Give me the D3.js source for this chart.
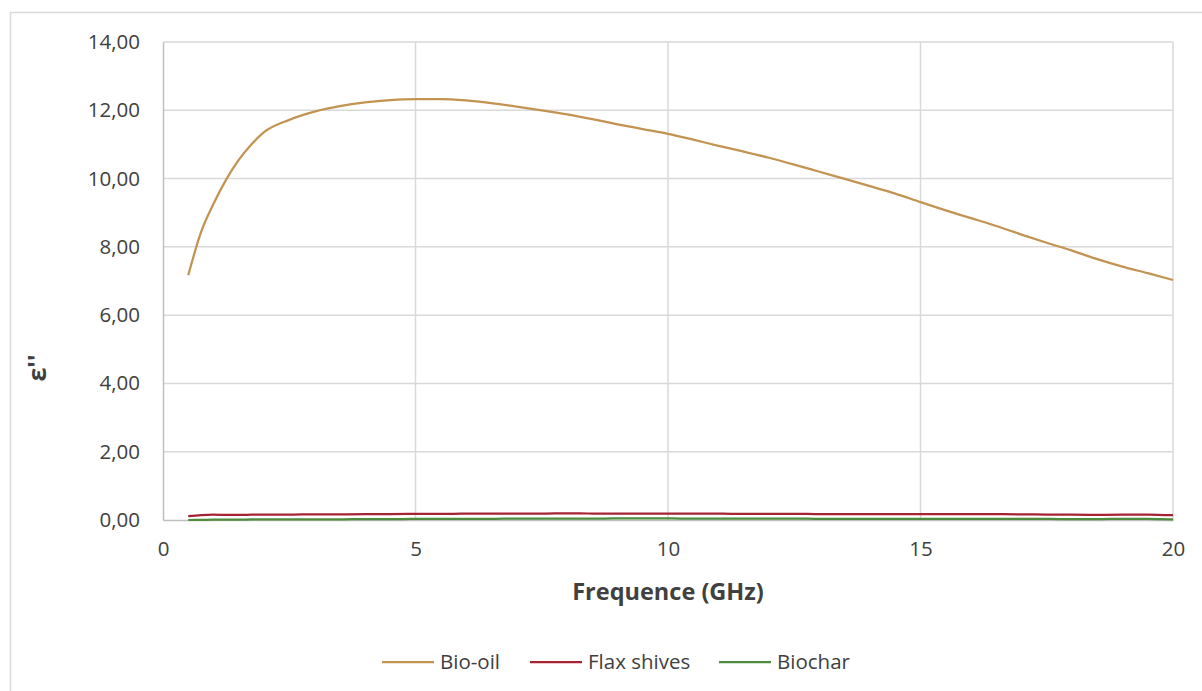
<!DOCTYPE html>
<html><head><meta charset="utf-8">
<script src="https://cdn.jsdelivr.net/npm/d3@7"></script>
<style>body{margin:0;background:#fff}svg{display:block}text{font-family:"Open Sans",sans-serif;fill:#404040}</style>
</head><body><svg id="c" width="1202" height="691"></svg>
<script>
const freq = [0.5,0.75,1,1.25,1.5,1.75,2,2.5,3,3.5,4,4.5,5,5.5,6,6.5,7,7.5,8,8.5,9,9.5,10,10.5,11,11.5,12,12.5,13,13.5,14,14.5,15,15.5,16,16.5,17,17.5,18,18.5,19,19.5,20];
const bioOil = [7.17,8.42,9.26,9.97,10.55,11.0,11.36,11.72,11.96,12.12,12.23,12.3,12.33,12.33,12.29,12.21,12.11,12.0,11.88,11.74,11.59,11.45,11.31,11.14,10.96,10.79,10.61,10.41,10.2,9.99,9.78,9.56,9.31,9.07,8.84,8.61,8.36,8.12,7.89,7.64,7.42,7.23,7.03];
const flax = [0.11,0.14,0.155,0.15,0.15,0.155,0.16,0.16,0.165,0.165,0.17,0.175,0.18,0.18,0.185,0.185,0.19,0.19,0.195,0.19,0.19,0.19,0.19,0.185,0.185,0.18,0.18,0.18,0.175,0.175,0.175,0.175,0.17,0.17,0.17,0.17,0.165,0.16,0.155,0.15,0.155,0.16,0.14];
const biochar = [0.0,0.005,0.01,0.01,0.01,0.015,0.015,0.02,0.02,0.02,0.025,0.025,0.03,0.03,0.035,0.035,0.04,0.04,0.04,0.04,0.045,0.045,0.045,0.04,0.04,0.04,0.04,0.04,0.035,0.035,0.035,0.035,0.035,0.035,0.035,0.03,0.03,0.03,0.025,0.025,0.035,0.035,0.02];
const seriesNames = ["Bio-oil","Flax shives","Biochar"];
const seriesColors = ["#C39352","#A62333","#4F8B3C"];
const yTicks = [0,2,4,6,8,10,12,14];
const xTicks = [0,5,10,15,20];
const xTitle = "Frequence (GHz)";
const yTitle = "ε''";

const svg = d3.select("#c");
const m = {l:163, r:1173, t:42, b:520};
const x = d3.scaleLinear().domain([0,20]).range([m.l,m.r]);
const y = d3.scaleLinear().domain([0,14]).range([m.b,m.t]);

svg.append("rect").attr("x",10.5).attr("y",12.5).attr("width",1200).attr("height",700)
  .attr("fill","none").attr("stroke","#d9d9d9").attr("stroke-width",1.5);

svg.append("g").selectAll("line").data(yTicks.filter(d=>d>0)).join("line")
  .attr("x1",m.l).attr("x2",m.r).attr("y1",d=>y(d)).attr("y2",d=>y(d))
  .attr("stroke","#d9d9d9").attr("stroke-width",1.5);
svg.append("g").selectAll("line").data(xTicks.filter(d=>d>0)).join("line")
  .attr("y1",m.t).attr("y2",m.b).attr("x1",d=>x(d)).attr("x2",d=>x(d))
  .attr("stroke","#d9d9d9").attr("stroke-width",1.5);

const fmt = d => d3.format(".2f")(d).replace(".",",");
const ya = svg.append("g").attr("transform",`translate(${m.l},0)`)
  .call(d3.axisLeft(y).tickValues(yTicks).tickFormat(fmt).tickSize(0).tickPadding(23));
ya.select(".domain").attr("stroke","#bfbfbf").attr("stroke-width",1.5);
ya.selectAll("text").attr("font-size",20.5).attr("fill","#404040").attr("font-family","Open Sans");
const xa = svg.append("g").attr("transform",`translate(0,${m.b})`)
  .call(d3.axisBottom(x).tickValues(xTicks).tickFormat(d3.format("d")).tickSize(0).tickPadding(21));
xa.select(".domain").attr("stroke","#bfbfbf").attr("stroke-width",1.5);
xa.selectAll("text").attr("font-size",20.5).attr("fill","#404040").attr("font-family","Open Sans");

const data = [bioOil, flax, biochar];
const line = d3.line().x((d,i)=>x(freq[i])).y(d=>y(d)).curve(d3.curveMonotoneX);
svg.append("g").selectAll("path").data(data).join("path")
  .attr("d",line).attr("fill","none").attr("stroke",(d,i)=>seriesColors[i])
  .attr("stroke-width",2.25).attr("stroke-linejoin","round");

svg.append("text").attr("x",(m.l+m.r)/2).attr("y",600).attr("text-anchor","middle")
  .attr("font-size",23.5).attr("font-weight","bold").text(xTitle);
svg.append("text").attr("transform",`translate(46,368) rotate(-90)`).attr("text-anchor","middle")
  .attr("font-size",25).attr("font-weight","bold").text(yTitle);

const lx = [382,530,719];
const lg = svg.append("g").selectAll("g").data(seriesNames).join("g")
  .attr("transform",(d,i)=>`translate(${lx[i]},662)`);
lg.append("line").attr("x1",0).attr("x2",52).attr("stroke",(d,i)=>seriesColors[i]).attr("stroke-width",2.25);
lg.append("text").attr("x",58).attr("dy","0.35em").attr("font-size",20.5).text(d=>d);
</script></body></html>
